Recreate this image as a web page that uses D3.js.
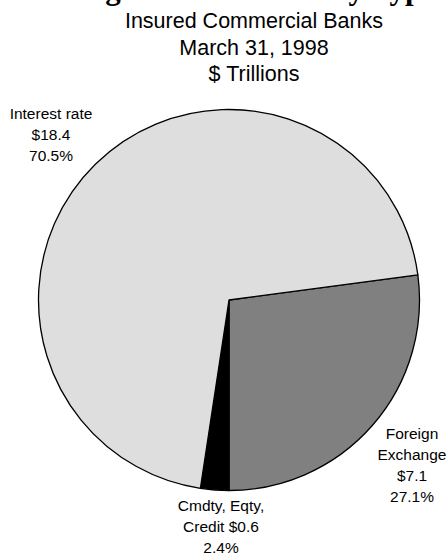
<!DOCTYPE html>
<html>
<head>
<meta charset="utf-8">
<script src="https://cdn.jsdelivr.net/npm/d3@7"></script>
<style>
  html, body { margin: 0; padding: 0; background: #fff; }
  svg { display: block; }
</style>
</head>
<body>
<svg id="chart" width="448" height="556"></svg>
<script>
// Notional amounts by contract type, $ trillions, and shares of the total
const categories = ["Foreign Exchange", "Cmdty, Eqty, Credit", "Interest rate"];
const amounts = [7.1, 0.6, 18.4];
const shares = [27.1, 2.4, 70.5];
const sliceColors = ["#808080", "#000000", "#dedede"];

const titleText = "Holdings of Derivatives by Type";
const subtitleLines = ["Insured Commercial Banks", "March 31, 1998", "$ Trillions"];

// Label lines per slice
const labelLines = [
  ["Foreign", "Exchange", "$" + amounts[0].toFixed(1), shares[0].toFixed(1) + "%"],
  ["Cmdty, Eqty,", "Credit $" + amounts[1].toFixed(1), shares[1].toFixed(1) + "%"],
  ["Interest rate", "$" + amounts[2].toFixed(1), shares[2].toFixed(1) + "%"]
];

const svg = d3.select("#chart");
const cx = 229, cy = 300, radius = 190.5;

// Title: sits at the very top edge, only its descenders inside the page
const title = svg.append("text")
  .attr("font-family", "'Liberation Serif', 'Times New Roman', serif")
  .attr("font-weight", "bold")
  .attr("font-size", 20)
  .attr("text-anchor", "end")
  .attr("x", 436)
  .attr("y", -1)
  .text(titleText);
const w20 = title.node().getComputedTextLength();
title.attr("font-size", 20 * 422 / w20);

// Subtitle
svg.append("g")
  .attr("font-family", "'Liberation Sans', Arial, sans-serif")
  .attr("font-size", 21.5)
  .attr("text-anchor", "middle")
  .attr("fill", "#000")
  .selectAll("text")
  .data(subtitleLines)
  .join("text")
  .attr("x", 254)
  .attr("y", (d, i) => 28 + i * 26.6)
  .text(d => d);

// Pie: Foreign Exchange slice ends pointing straight down
const startAngle = Math.PI - (shares[0] / 100) * 2 * Math.PI;
const pie = d3.pie()
  .sort(null)
  .value(d => d)
  .startAngle(startAngle)
  .endAngle(startAngle + 2 * Math.PI);
const arc = d3.arc().innerRadius(0).outerRadius(radius);

svg.append("g")
  .attr("transform", `translate(${cx},${cy})`)
  .selectAll("path")
  .data(pie(shares))
  .join("path")
  .attr("d", arc)
  .attr("fill", (d, i) => sliceColors[i])
  .attr("stroke", "#000")
  .attr("stroke-width", 1.3)
  .attr("stroke-linejoin", "round");

// Slice labels
const labelPos = [
  { x: 412, y: 438.5 },
  { x: 221, y: 510.5 },
  { x: 51, y: 118.5 }
];
const labels = svg.append("g")
  .attr("font-family", "'Liberation Sans', Arial, sans-serif")
  .attr("font-size", 15.5)
  .attr("text-anchor", "middle")
  .attr("fill", "#000");
labelLines.forEach((lines, k) => {
  labels.append("text")
    .selectAll("tspan")
    .data(lines)
    .join("tspan")
    .attr("x", labelPos[k].x)
    .attr("y", (d, i) => labelPos[k].y + i * 21.2)
    .text(d => d);
});
</script>
</body>
</html>
